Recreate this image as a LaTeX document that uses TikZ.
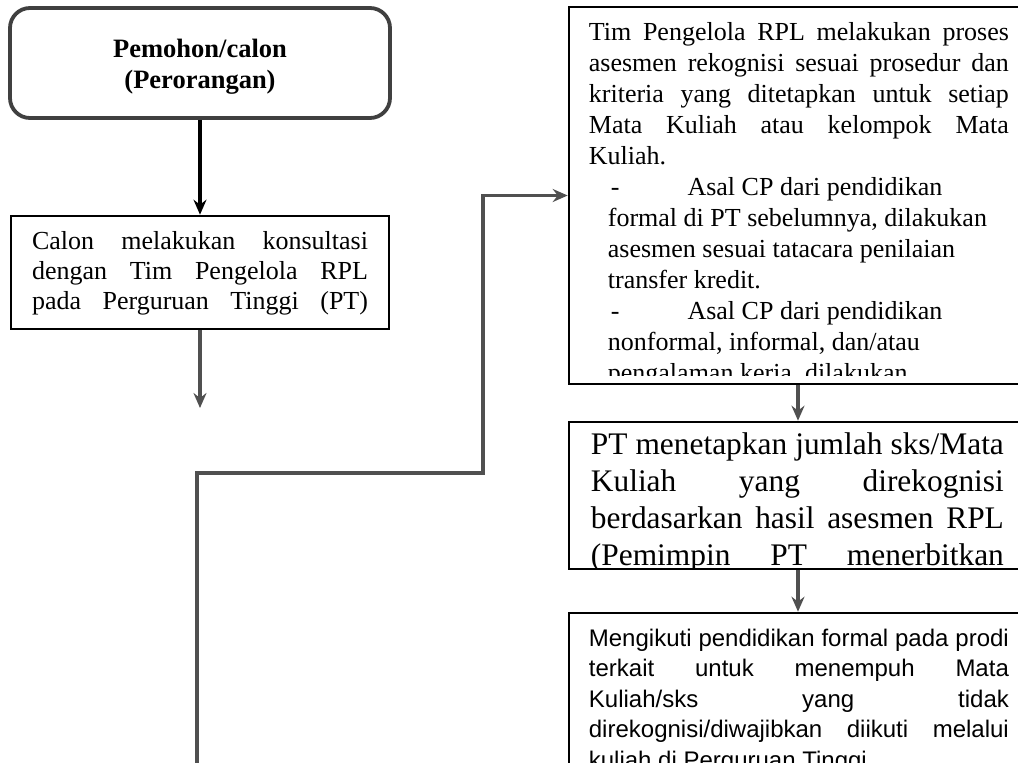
\documentclass[tikz,border=0pt]{standalone}
\usepackage{fontspec}
\setmainfont{Liberation Serif}
\newfontfamily\arialfont{Liberation Sans}
\usetikzlibrary{arrows.meta,positioning}
\definecolor{garis}{HTML}{505050}
\definecolor{tepi}{HTML}{404040}
% one justified line of a box
\newcommand{\jl}[1]{\makebox[\linewidth][s]{#1}}
\tikzset{
  box/.style={draw=black,line width=2.6pt,inner sep=0pt},
  roundbox/.style={draw=tepi,line width=3.8pt,rounded corners=20pt,inner sep=0pt},
  isi/.style={anchor=north west,inner sep=0pt,align=justify},
  panah/.style={draw=garis,line width=3.2pt,-{Stealth[length=15pt,width=13pt,inset=5pt]}}
}
\begin{document}
\begin{tikzpicture}[x=1pt,y=-1pt]
\useasboundingbox (0,0) rectangle (1018,763);
\clip (0,0) rectangle (1018,763);
% left column
\node[roundbox,minimum width=380,minimum height=110,align=center,font=\bfseries\fontsize{26.5}{31}\selectfont] (pemohon) at (200,63) {\rule{0pt}{26pt}Pemohon/calon\\(Perorangan)};
\node[box,minimum width=378,minimum height=113,text width=336,align=justify,font=\fontsize{26}{30}\selectfont] (konsultasi) at (200,272.5) {\rule{0pt}{20pt}\jl{Calon melakukan konsultasi}\\\jl{dengan Tim Pengelola RPL}\\\jl{pada Perguruan Tinggi (PT)}};
\coordinate (lanjut) at (200,408);
\coordinate (dariBawah) at (197,780);
\coordinate (belok) at (483,473);
% right column
\node[box,minimum width=458,minimum height=377] (asesmen) at (798,195.5) {};
\node[box,minimum width=458,minimum height=147] (penetapan) at (798,495.5) {};
\node[box,minimum width=458,minimum height=200] (kuliah) at (798,713) {};
\begin{scope}
\clip (asesmen.north west) rectangle ([yshift=10pt]asesmen.south east);
\node[isi,text width=420,font=\fontsize{26}{31}\selectfont] (asesmenIsi) at ([shift={(21,13)}]asesmen.north west) {\strut\jl{Tim Pengelola RPL melakukan proses}\\
\jl{asesmen rekognisi sesuai prosedur dan}\\
\jl{kriteria yang ditetapkan untuk setiap}\\
\jl{Mata Kuliah atau kelompok Mata}\\
Kuliah.\\
\hspace*{22pt}-\hspace*{68pt}Asal CP dari pendidikan\\
\hspace*{19pt}formal di PT sebelumnya, dilakukan\\
\hspace*{19pt}asesmen sesuai tatacara penilaian\\
\hspace*{19pt}transfer kredit.\\
\hspace*{22pt}-\hspace*{68pt}Asal CP dari pendidikan\\
\hspace*{19pt}nonformal, informal, dan/atau\\
\hspace*{19pt}pengalaman kerja, dilakukan};
\end{scope}
\begin{scope}
\clip (penetapan.north west) rectangle ([yshift=3pt]penetapan.south east);
\node[isi,text width=413,font=\fontsize{31.4}{37}\selectfont] (penetapanIsi) at ([shift={(23,8)}]penetapan.north west) {\strut\jl{PT menetapkan jumlah sks/Mata}\\
\jl{Kuliah yang direkognisi}\\
\jl{berdasarkan hasil asesmen RPL}\\
\jl{(Pemimpin PT menerbitkan}};
\end{scope}
\begin{scope}
\clip (kuliah.north west) rectangle ([yshift=40pt]kuliah.south east);
\node[isi,text width=420,font=\arialfont\fontsize{24}{30.5}\selectfont] (kuliahIsi) at ([shift={(21,13)}]kuliah.north west) {\strut\jl{Mengikuti pendidikan formal pada prodi}\\
\jl{terkait untuk menempuh Mata}\\
\jl{Kuliah/sks yang tidak}\\
\jl{direkognisi/diwajibkan diikuti melalui}\\
kuliah di Perguruan Tinggi};
\end{scope}
% connectors
\draw[panah,draw=black] (pemohon.south) -- (konsultasi.north);
\draw[panah] (konsultasi.south) -- (lanjut);
\draw[panah] (dariBawah) |- (belok) |- (asesmen.west);
\draw[panah] (asesmen.south) -- (penetapan.north);
\draw[panah] (penetapan.south) -- (kuliah.north);
\end{tikzpicture}
\end{document}
